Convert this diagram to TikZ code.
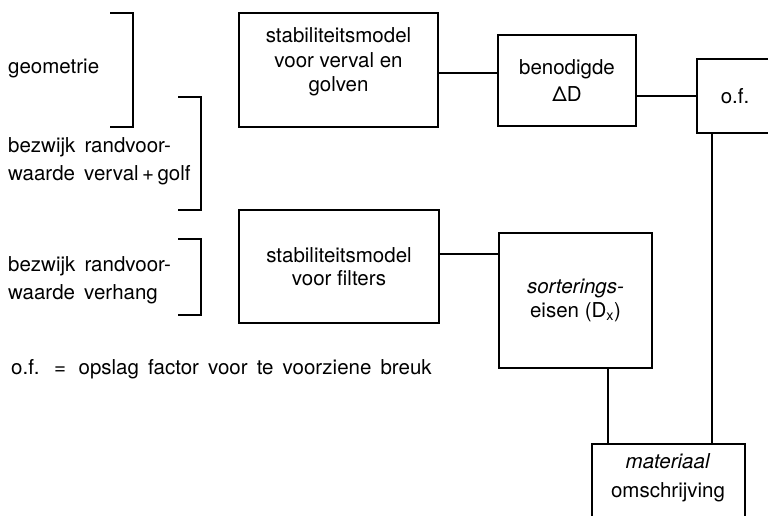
\documentclass[tikz,border=0pt]{standalone}
\usepackage{fontspec}
\setmainfont{TeX Gyre Heros}
\newfontfamily\widesp[WordSpace=1.6]{TeX Gyre Heros}
\begin{document}
\begin{tikzpicture}[x=1pt,y=-1pt,
  lw/.style={line width=1.1pt},
  box/.style={draw,lw,rectangle,inner sep=0pt,align=center},
  txt/.style={inner sep=0pt,align=center,font=\fontsize{20.5}{24.5}\selectfont},
  lbl/.style={inner sep=0pt,align=left,anchor=west,font=\widesp\fontsize{20.5}{28}\selectfont},
  con/.style={lw}]
\useasboundingbox (0,0) rectangle (768,515);
\clip (0,0) rectangle (768,515);
% boxes
\node[box,minimum width=199pt,minimum height=114pt] (s1) at (338.5,70) {};
\node[txt] (s1t) at (338.5,62) {stabiliteitsmodel\\voor verval en\\golven};
\node[box,minimum width=138pt,minimum height=91pt,font=\fontsize{20.5}{27}\selectfont] (b1) at (567,80.5) {benodigde\\ΔD};
\node[box,minimum width=76pt,minimum height=74pt,font=\fontsize{20.5}{24.5}\selectfont] (of) at (735,96) {o.f.};
\node[box,minimum width=200pt,minimum height=113pt,font=\fontsize{20.5}{23}\selectfont] (s2) at (339,266.5) {stabiliteitsmodel\\voor filters};
\node[box,minimum width=153pt,minimum height=135pt,font=\fontsize{20.5}{24.5}\selectfont] (so) at (575.5,300.5) {\textit{sorterings-}\\eisen (D\textsubscript{x})};
\node[box,minimum width=153pt,minimum height=96pt] (mat) at (668.5,492) {};
\node[txt,font=\fontsize{20.5}{29}\selectfont] (matt) at (668,478) {\textit{materiaal}\\omschrijving};
% connectors
\coordinate (c1) at ([yshift=-3pt]s1.east);
\draw[con] (c1) -- (c1 -| b1.west);
\draw[con] (b1.east |- of.west) -- (of.west);
\coordinate (c2) at ([yshift=12.5pt]s2.east);
\draw[con] (c2) -- (c2 -| so.west);
\coordinate (c3) at ([xshift=32.5pt]so.south);
\draw[con] (c3) -- (c3 |- mat.north);
\coordinate (c4) at ([xshift=-23pt]of.south);
\draw[con] (c4) -- (c4 |- mat.north);
% left labels
\node[lbl] (g) at (8,68) {geometrie};
\node[lbl] (bz1) at (8,161) {bezwijk randvoor-\\waarde verval\,+\,golf};
\node[lbl] (bz2) at (8,280) {bezwijk randvoor-\\waarde verhang};
% brackets
\draw[lw] (110,13) -| (133,127) -- (110,127);
\draw[lw] (178,97) -| (201,210) -- (178,210);
\draw[lw] (178,239) -| (201,315) -- (178,315);
% footnote
\node[lbl,font=\widesp\fontsize{20.5}{24}\selectfont] (fn) at (11,369) {o.f. \,=\, opslag factor voor te voorziene breuk};
\end{tikzpicture}
\end{document}
